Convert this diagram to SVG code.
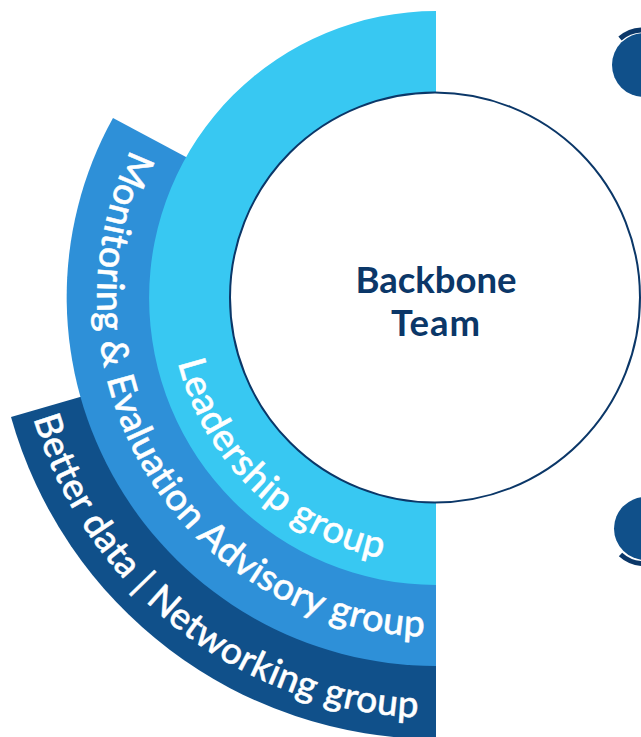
<svg xmlns="http://www.w3.org/2000/svg" width="641" height="737" viewBox="0 0 641 737">
<style>
.lbl{font-family:"Lato","Open Sans",sans-serif;font-weight:500;fill:#fff;stroke:#fff;stroke-width:.5}
.ctr{font-family:"Lato","Open Sans",sans-serif;font-weight:700;font-size:36.500px;fill:#0b3768;text-anchor:middle}
.blob{fill:#10508a}
.tick{fill:none;stroke:#0b3768;stroke-width:5}
</style>
<defs>
<path id="p1" d="M170 298 A266 266 0 0 0 436 564"/>
<path id="p2" d="M139.500 133.700 A339 339 0 0 0 436 637"/>
<path id="p3" d="M31 410 A420 420 0 0 0 436 718"/>
</defs>
<rect width="641" height="737" fill="#fff"/>
<g id="better-data">
<path d="M436 739 A441 441 0 0 1 11 417 L80 397 L436 400 Z" fill="#10508a"/>
<text class="lbl" font-size="37" letter-spacing=".42"><textPath href="#p3" startOffset="9">Better data | Networking group</textPath></text>
</g>
<g id="monitoring">
<path d="M436 666 A369 369 0 0 1 113 118 L186 157 L436 300 Z" fill="#2e90d8"/>
<text class="lbl" font-size="37.500" letter-spacing=".36"><textPath href="#p2" startOffset="18">Monitoring &amp; Evaluation Advisory group</textPath></text>
</g>
<g id="leadership">
<path d="M436 585 A287 287 0 0 1 436 11 Z" fill="#38c8f2"/>
<text class="lbl" font-size="38" letter-spacing=".65"><textPath href="#p1" startOffset="65">Leadership group</textPath></text>
</g>
<g id="backbone-team">
<circle cx="435" cy="297.500" r="205" fill="#fff" stroke="#0b3768" stroke-width="2"/>
<text class="ctr" x="436" y="293">Backbone</text>
<text class="ctr" x="436" y="336" letter-spacing="1">Team</text>
</g>
<g id="node-top">
<circle class="blob" cx="644" cy="65" r="32"/>
<path class="tick" d="M620 38.500 A35 35 0 0 1 644 30"/>
</g>
<g id="node-bottom">
<circle class="blob" cx="645.500" cy="528.500" r="31.500"/>
<path class="tick" d="M620.500 554.500 A35 35 0 0 0 645.500 563.500"/>
</g>
</svg>
